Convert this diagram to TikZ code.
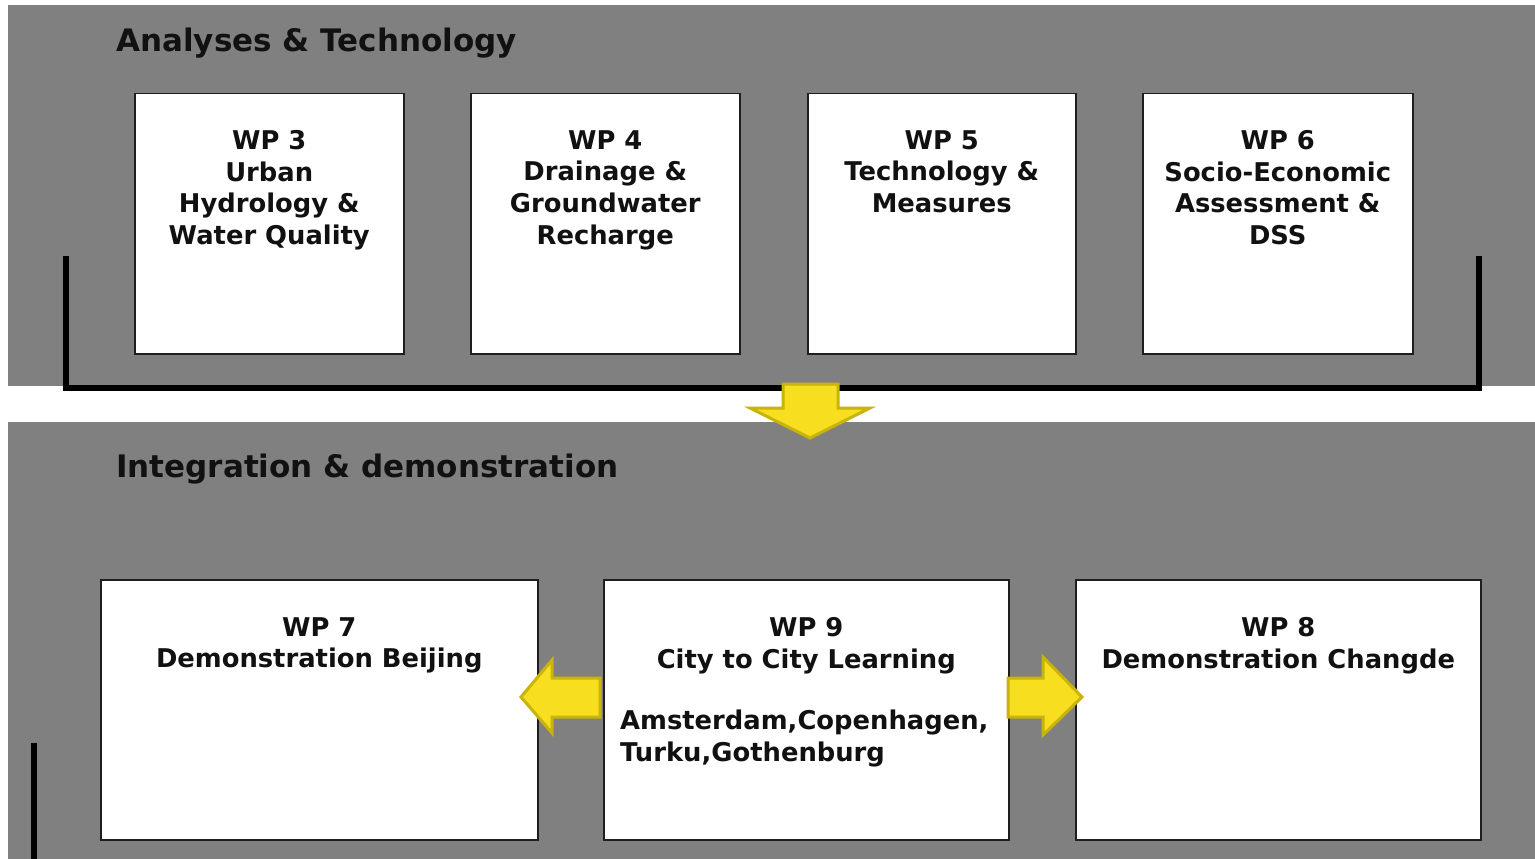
\documentclass[tikz,border=0pt]{standalone}
\usepackage{fontspec}
\setmainfont{DejaVu Sans}
\definecolor{panelgray}{RGB}{128,128,128}
\definecolor{boxline}{RGB}{30,30,30}
\definecolor{txt}{RGB}{17,17,17}
\definecolor{arrowfill}{RGB}{247,222,30}
\definecolor{arrowline}{RGB}{200,180,10}
\begin{document}
\begin{tikzpicture}[x=1pt,y=-1pt,
  wpbox/.style={draw=boxline, line width=1.5pt, fill=white, anchor=north west, inner sep=0pt},
  wptext/.style={font=\fontsize{25.8}{31.7}\selectfont\bfseries, text=txt, align=center, inner sep=0pt, anchor=north},
  listtext/.style={font=\fontsize{25.8}{31.7}\selectfont\bfseries, text=txt, align=left, inner sep=0pt, anchor=north west},
  paneltitle/.style={font=\fontsize{31}{36}\selectfont\bfseries, text=txt, anchor=base west, inner sep=0pt},
  bracket/.style={line width=6pt, draw=black},
  yarrow/.style={fill=arrowfill, draw=arrowline, line width=3pt, line join=miter}]
\useasboundingbox (0,0) rectangle (1535,859);
\fill[white] (0,0) rectangle (1535,859);
\fill[panelgray] (8,5) rectangle (1535,386);
\fill[panelgray] (8,422) rectangle (1535,859);

\node[paneltitle] (t1) at (116,52) {Analyses \& Technology};
\node[paneltitle] (t2) at (116,477) {Integration \& demonstration};

% bracket
\coordinate (bl) at (66,256);
\coordinate (br) at (1479,256);
\draw[bracket] (bl) |- (1479,388) -- (br);
\coordinate (bar1) at (34,743);
\coordinate (bar2) at (34,859);
\draw[bracket] (bar1) -- (bar2);

% top boxes
\node[wpbox, minimum width=269pt, minimum height=260pt] (wp3) at (134,93) {};
\node[wpbox, minimum width=269pt, minimum height=260pt] (wp4) at (470,93) {};
\node[wpbox, minimum width=268pt, minimum height=260pt] (wp5) at (807,93) {};
\node[wpbox, minimum width=270pt, minimum height=260pt] (wp6) at (1142,93) {};

\node[wptext] (wp3t) at ([yshift=-37pt]wp3.north) {WP 3\\Urban\\Hydrology \&\\Water Quality};
\node[wptext] (wp4t) at ([yshift=-37pt]wp4.north) {WP 4\\Drainage \&\\Groundwater\\Recharge};
\node[wptext] (wp5t) at ([yshift=-37pt]wp5.north) {WP 5\\Technology \&\\Measures};
\node[wptext] (wp6t) at ([yshift=-37pt]wp6.north) {WP 6\\Socio-Economic\\Assessment \&\\DSS};

% bottom boxes
\node[wpbox, minimum width=437pt, minimum height=260pt] (wp7) at (100,579) {};
\node[wpbox, minimum width=405pt, minimum height=260pt] (wp9) at (603,579) {};
\node[wpbox, minimum width=405pt, minimum height=260pt] (wp8) at (1075,579) {};

\node[wptext] (wp7t) at ([yshift=-38pt]wp7.north) {WP 7\\Demonstration Beijing};
\node[wptext] (wp9t) at ([yshift=-38pt]wp9.north) {WP 9\\City to City Learning};
\node[listtext] (wp9l) at (620,710) {Amsterdam,Copenhagen,\\Turku,Gothenburg};
\node[wptext] (wp8t) at ([yshift=-38pt]wp8.north) {WP 8\\Demonstration Changde};

% yellow arrows
\draw[yarrow] (783,384) -- (838,384) -- (838,408) -- (870,408) -- (810,438) -- (750,408) -- (783,408) -- cycle;
\draw[yarrow] (600,678) -- (552,678) -- (552,660) -- (521,697) -- (552,733) -- (552,717) -- (600,717) -- cycle;
\draw[yarrow] (1008,678) -- (1043,678) -- (1043,657) -- (1082,697) -- (1043,735) -- (1043,717) -- (1008,717) -- cycle;
\end{tikzpicture}
\end{document}
